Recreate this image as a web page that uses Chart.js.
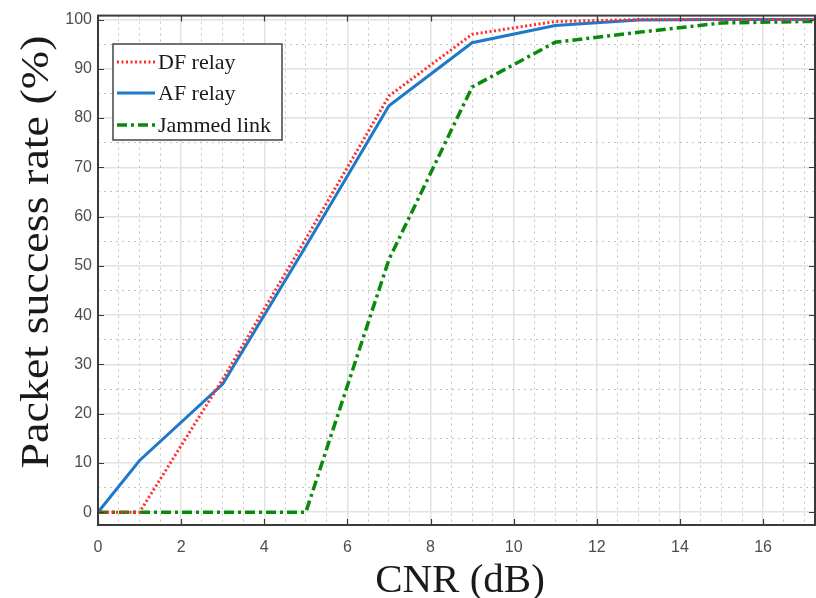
<!DOCTYPE html>
<html>
<head>
<meta charset="utf-8">
<script src="https://cdn.jsdelivr.net/npm/chart.js@4/dist/chart.umd.min.js"></script>
<style>
  html, body { margin: 0; padding: 0; background: #fff; }
  #wrap { width: 816px; height: 598px; }
</style>
</head>
<body>
<div id="wrap"><canvas id="psr" width="816" height="598"></canvas></div>
<script>
// CNR points (dB) and packet success rate (%)
const cnr      = [0, 1, 3, 5, 7, 9, 11, 13, 15, 17, 19];
const dfRelay  = [0, 0, 27, 55.5, 84.5, 97, 99.6, 100, 100, 100, 100];
const afRelay  = [0, 10.5, 26, 54, 82.5, 95.3, 98.8, 99.9, 100, 100, 100];
const jammed   = [0, 0, 0, 0, 51.3, 86.3, 95.4, 97.4, 99.3, 99.6, 99.7];

const xTicks      = [0, 2, 4, 6, 8, 10, 12, 14, 16];
const yTicks      = [0, 10, 20, 30, 40, 50, 60, 70, 80, 90, 100];
const xMinorTicks = [0.5, 1, 1.5, 2.5, 3, 3.5, 4.5, 5, 5.5, 6.5, 7, 7.5, 8.5, 9, 9.5,
                     10.5, 11, 11.5, 12.5, 13, 13.5, 14.5, 15, 15.5, 16.5, 17];
const yMinorTicks = [5, 15, 25, 35, 45, 55, 65, 75, 85, 95];

const $ = id => document.getElementById(id);
const pts = ys => cnr.map((x, i) => ({ x, y: ys[i] }));

const TICK_FONT = { family: "'Liberation Sans', Arial, sans-serif", size: 16 };
const SERIF = "'Liberation Serif', 'Times New Roman', serif";

const setTicks = list => s => { s.ticks = list.map(v => ({ value: v })); };

// box, inward tick marks, legend, axis titles
const decor = {
  id: 'decor',
  afterDatasetsDraw(chart) {
    const { ctx, chartArea: a, scales } = chart;
    ctx.save();
    ctx.strokeStyle = '#3a3a3a';
    ctx.lineWidth = 1.2;
    ctx.beginPath();
    xTicks.forEach(v => {
      const px = Math.round(scales.x.getPixelForValue(v)) + 0.5;
      ctx.moveTo(px, a.bottom); ctx.lineTo(px, a.bottom - 6);
      ctx.moveTo(px, a.top);    ctx.lineTo(px, a.top + 6);
    });
    yTicks.forEach(v => {
      const py = Math.round(scales.y.getPixelForValue(v)) + 0.5;
      ctx.moveTo(a.left, py);  ctx.lineTo(a.left + 6, py);
      ctx.moveTo(a.right, py); ctx.lineTo(a.right - 6, py);
    });
    ctx.stroke();
    ctx.lineWidth = 2;
    ctx.strokeRect(a.left, a.top, a.right - a.left, a.bottom - a.top);

    // legend
    const lx = 113, ly = 44, lw = 169, lh = 96;
    ctx.fillStyle = '#fff';
    ctx.fillRect(lx, ly, lw, lh);
    ctx.lineWidth = 1.5;
    ctx.strokeStyle = '#444';
    ctx.strokeRect(lx, ly, lw, lh);
    const rows = [62, 93, 125];
    chart.data.datasets.forEach((ds, i) => {
      const y = rows[i];
      ctx.beginPath();
      ctx.setLineDash(ds.borderDash || []);
      ctx.strokeStyle = ds.borderColor;
      ctx.lineWidth = ds.borderWidth;
      ctx.moveTo(117, y); ctx.lineTo(155, y);
      ctx.stroke();
      ctx.setLineDash([]);
      ctx.fillStyle = '#1a1a1a';
      ctx.font = '22px ' + SERIF;
      ctx.textBaseline = 'middle';
      ctx.textAlign = 'left';
      ctx.fillText(ds.label, 158, y + 1);
    });
    ctx.restore();
  },
  afterDraw(chart) {
    const { ctx } = chart;
    ctx.save();
    ctx.fillStyle = '#1a1a1a';
    ctx.textAlign = 'center';
    ctx.textBaseline = 'alphabetic';
    ctx.font = '41px ' + SERIF;
    ctx.fillText('CNR (dB)', 460, 592);
    ctx.translate(48, 252);
    ctx.rotate(-Math.PI / 2);
    ctx.scale(1, 0.86);
    ctx.font = '46px ' + SERIF;
    ctx.fillText('Packet success rate (%)', 0, 0);
    ctx.restore();
  }
};

new Chart($('psr').getContext('2d'), {
  type: 'line',
  data: {
    datasets: [
      { label: 'DF relay', data: pts(dfRelay), borderColor: '#ff2a2a', borderWidth: 3,
        borderDash: [2, 2.5], clip: 0 },
      { label: 'AF relay', data: pts(afRelay), borderColor: '#1f78c8', borderWidth: 3, clip: 0 },
      { label: 'Jammed link', data: pts(jammed), borderColor: '#0a8a0a', borderWidth: 3.5,
        borderDash: [10, 4, 3, 4], clip: 0 }
    ]
  },
  options: {
    responsive: false,
    animation: false,
    layout: { padding: { top: 13, right: 1, left: 0, bottom: 0 } },
    elements: { point: { radius: 0 }, line: { tension: 0, borderCapStyle: 'butt' } },
    plugins: { legend: { display: false }, tooltip: { enabled: false } },
    scales: {
      x: {
        type: 'linear', position: 'bottom', min: 0, max: 17.25,
        afterBuildTicks: setTicks(xTicks),
        afterFit: s => { s.height = 73; },
        ticks: { color: '#4d4d4d', font: TICK_FONT, padding: 13, maxRotation: 0, autoSkip: false },
        grid: { color: '#e2e2e2', lineWidth: 1.5, drawTicks: false },
        border: { display: false }
      },
      y: {
        type: 'linear', position: 'left', min: -2.6, max: 100.8,
        afterBuildTicks: setTicks(yTicks),
        afterFit: s => { s.width = 98; },
        ticks: { color: '#4d4d4d', font: TICK_FONT, padding: 6, autoSkip: false },
        grid: { color: '#e2e2e2', lineWidth: 1.5, drawTicks: false },
        border: { display: false }
      },
      xm: {
        type: 'linear', position: 'bottom', min: 0, max: 17.25,
        afterBuildTicks: setTicks(xMinorTicks),
        afterFit: s => { s.height = 0; },
        ticks: { display: false },
        grid: { color: '#c2c2c2', lineWidth: 1, drawTicks: false },
        border: { display: false, dash: [2, 4] }
      },
      ym: {
        type: 'linear', position: 'left', min: -2.6, max: 100.8,
        afterBuildTicks: setTicks(yMinorTicks),
        afterFit: s => { s.width = 0; },
        ticks: { display: false },
        grid: { color: '#c2c2c2', lineWidth: 1, drawTicks: false },
        border: { display: false, dash: [2, 4] }
      }
    }
  },
  plugins: [decor]
});
</script>
</body>
</html>
